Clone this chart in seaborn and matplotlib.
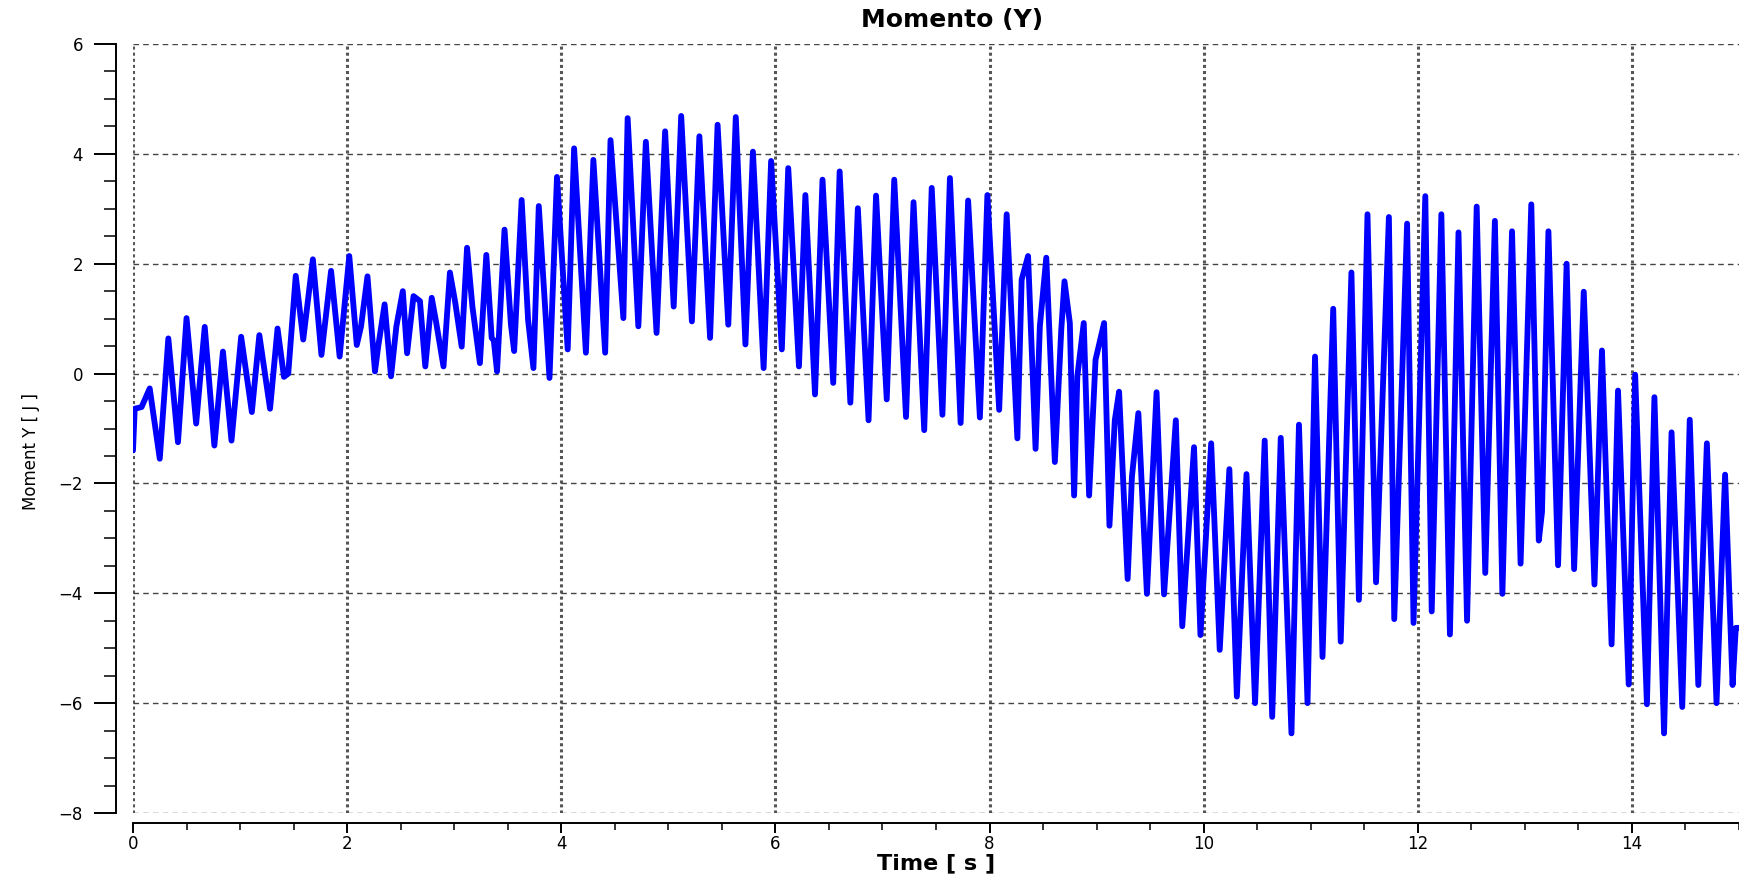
import numpy as np
import matplotlib
matplotlib.use("Agg")
import matplotlib.pyplot as plt
from matplotlib.ticker import MultipleLocator
import pandas as pd
import seaborn as sns

# peaks / troughs
time_s = [0.00, 0.016, 0.08, 0.156, 0.25, 0.33, 0.42, 0.50, 0.59, 0.67, 0.76, 0.84, 0.92, 1.01,
          1.11, 1.18, 1.28, 1.35, 1.41, 1.45, 1.52, 1.59, 1.68, 1.76, 1.85, 1.93, 2.02, 2.09,
          2.13, 2.19, 2.26, 2.29, 2.35, 2.41, 2.46, 2.52, 2.56, 2.62, 2.68, 2.73, 2.79, 2.83,
          2.90, 2.96, 3.01, 3.07, 3.12, 3.17, 3.24, 3.30, 3.35, 3.37, 3.40, 3.47, 3.53, 3.56,
          3.63, 3.69, 3.74, 3.79, 3.89, 3.96, 4.06, 4.12, 4.23, 4.30, 4.41, 4.46, 4.58, 4.62,
          4.72, 4.79, 4.89, 4.97, 5.05, 5.12, 5.22, 5.29, 5.39, 5.46, 5.56, 5.63, 5.72, 5.79,
          5.89, 5.96, 6.06, 6.12, 6.22, 6.28, 6.37, 6.44, 6.54, 6.60, 6.70, 6.77, 6.87, 6.94,
          7.04, 7.11, 7.22, 7.29, 7.39, 7.46, 7.56, 7.63, 7.73, 7.80, 7.91, 7.98, 8.09, 8.16,
          8.26, 8.30, 8.36, 8.43, 8.47, 8.53, 8.61, 8.67, 8.70, 8.75, 8.79, 8.82, 8.88, 8.93,
          8.99, 9.07, 9.12, 9.17, 9.21, 9.29, 9.33, 9.39, 9.47, 9.56, 9.63, 9.74, 9.80, 9.91,
          9.97, 10.07, 10.15, 10.24, 10.31, 10.40, 10.48, 10.57, 10.64, 10.72, 10.82, 10.89,
          10.97, 11.04, 11.11, 11.21, 11.28, 11.38, 11.45, 11.53, 11.61, 11.73, 11.78, 11.90,
          11.96, 12.07, 12.13, 12.22, 12.30, 12.38, 12.46, 12.55, 12.63, 12.72, 12.79, 12.88,
          12.96, 13.06, 13.13, 13.16, 13.22, 13.31, 13.39, 13.46, 13.55, 13.65, 13.72, 13.81,
          13.87, 13.97, 14.03, 14.14, 14.21, 14.30, 14.37, 14.47, 14.54, 14.62, 14.70, 14.79,
          14.87, 14.94, 14.97, 15.00]

moment_y = [-1.40, -0.64, -0.61, -0.27, -1.55, 0.64, -1.25, 1.01, -0.91, 0.85, -1.31, 0.40, -1.22, 0.67,
            -0.70, 0.70, -0.64, 0.82, -0.06, 0.00, 1.78, 0.62, 2.08, 0.34, 1.87, 0.31, 2.14, 0.52,
            0.86, 1.77, 0.04, 0.49, 1.26, -0.05, 0.86, 1.50, 0.37, 1.41, 1.32, 0.13, 1.38, 0.95,
            0.13, 1.84, 1.29, 0.49, 2.29, 1.22, 0.19, 2.16, 0.65, 0.60, 0.04, 2.62, 0.89, 0.41,
            3.16, 0.98, 0.10, 3.05, -0.08, 3.58, 0.44, 4.10, 0.38, 3.89, 0.38, 4.25, 1.01, 4.65,
            0.86, 4.22, 0.74, 4.41, 1.22, 4.69, 0.95, 4.32, 0.65, 4.53, 0.89, 4.67, 0.53, 4.04,
            0.10, 3.87, 0.44, 3.74, 0.13, 3.25, -0.38, 3.53, -0.17, 3.68, -0.53, 3.01, -0.85, 3.24,
            -0.47, 3.53, -0.79, 3.12, -1.03, 3.38, -0.75, 3.56, -0.90, 3.15, -0.80, 3.25, -0.66, 2.90,
            -1.18, 1.71, 2.14, -1.37, 0.86, 2.11, -1.61, 0.80, 1.68, 0.92, -2.22, -0.05, 0.92, -2.22,
            0.25, 0.92, -2.77, -0.85, -0.33, -3.74, -1.88, -0.72, -4.01, -0.34, -4.02, -0.85, -4.60, -1.34,
            -4.76, -1.27, -5.03, -1.74, -5.88, -1.83, -6.00, -1.22, -6.25, -1.17, -6.55, -0.93,
            -6.00, 0.31, -5.16, 1.18, -4.88, 1.84, -4.12, 2.90, -3.80, 2.85, -4.47, 2.73,
            -4.54, 3.23, -4.33, 2.90, -4.75, 2.57, -4.50, 3.04, -3.63, 2.78, -4.01, 2.59,
            -3.46, 3.08, -3.04, -2.52, 2.59, -3.49, 2.00, -3.56, 1.49, -3.84, 0.42, -4.93,
            -0.31, -5.66, -0.02, -6.02, -0.43, -6.55, -1.07, -6.07, -0.84, -5.67, -1.27, -6.00,
            -1.84, -5.67, -4.63, -4.63]

x_ticks = [0, 2, 4, 6, 8, 10, 12, 14]
y_ticks = [-8, -6, -4, -2, 0, 2, 4, 6]

df = pd.DataFrame({"time": time_s, "moment": moment_y})

sns.set_style("white")
plt.rcParams['font.family'] = ['DejaVu Sans']
plt.rcParams['text.color'] = 'black'
plt.rcParams['axes.labelcolor'] = 'black'

W, H = 1739, 877
fig = plt.figure(figsize=(W / 100, H / 100), dpi=100)
ax = fig.add_axes([133 / W, 1 - 813 / H, 1 - 133 / W, (813 - 44) / H])

sns.lineplot(data=df, x="time", y="moment", ax=ax, color=(0, 0, 1), lw=4.2,
             estimator=None, sort=False, zorder=3,
             solid_joinstyle="round", solid_capstyle="round")

ax.set_xlim(0, 15)
ax.set_ylim(-8, 6)
ax.set_xticks(x_ticks)
ax.set_yticks(y_ticks)
ax.xaxis.set_minor_locator(MultipleLocator(0.5))
ax.yaxis.set_minor_locator(MultipleLocator(0.5))

for s in ["top", "right"]:
    ax.spines[s].set_visible(False)
ax.spines["left"].set_position(("outward", 12))
ax.spines["bottom"].set_position(("outward", 7))
for s in ["left", "bottom"]:
    ax.spines[s].set_color("black")
    ax.spines[s].set_linewidth(1.4)

ax.tick_params(which="both", bottom=True, left=True, top=False, right=False)
ax.tick_params(axis="y", which="major", direction="out", length=16, width=1.4,
               pad=8, labelsize=12, colors="black")
ax.tick_params(axis="y", which="minor", direction="out", length=9, width=1.1, colors="black")
ax.tick_params(axis="x", which="major", direction="out", length=7, width=1.4,
               pad=2, labelsize=12, colors="black")
ax.tick_params(axis="x", which="minor", direction="out", length=5, width=1.1, colors="black")

ax.set_axisbelow(True)
ax.yaxis.grid(True, which="major", ls=(0, (4, 3)), color="#444444", lw=1)
ax.xaxis.grid(True, which="major", ls=(0, (1, 1)), color="#555555", lw=2.2)

ax.set_title("Momento (Y)", fontweight="bold", fontsize=18, pad=12, x=0.51)
ax.set_xlabel("Time [ s ]", fontweight="bold", fontsize=16, labelpad=0)
ax.set_ylabel("Moment Y [ J ]", fontsize=12, family=["Liberation Sans Narrow", "DejaVu Sans"])
ax.yaxis.set_label_coords(-0.058, 0.47)

fig.savefig("out.png", dpi=100)
